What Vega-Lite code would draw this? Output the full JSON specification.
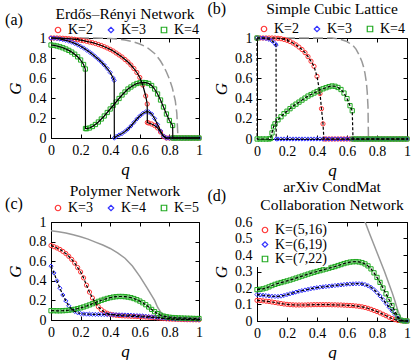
{
"$schema":"https://vega.github.io/schema/vega-lite/v6.json",
"padding":{"left":4,"top":0,"right":0,"bottom":0},
"resolve":{"scale":{"color":"independent","shape":"independent"},"legend":{"color":"independent","shape":"independent"}},
"config":{
 "font":"Liberation Serif",
 "view":{"stroke":"black","strokeWidth":1},
 "axis":{"grid":false,"labelFontSize":14,"titleFontSize":17,"titleFontStyle":"italic","titleFontWeight":"normal","labelColor":"black","titleColor":"black","domainColor":"black","tickColor":"black","tickSize":-4,"labelPadding":9,"labelFlush":false,"labelOverlap":false,"titlePadding":4},
 "title":{"fontSize":15.5,"fontWeight":"normal","color":"black","offset":2},
 "legend":{"labelFontSize":14,"labelColor":"black","symbolStrokeWidth":1.2,"symbolSize":30,"labelOffset":3}
},
"datasets":{
"a":[
{"K":"K=2","q":0,"G":1},{"K":"K=2","q":0.02,"G":1},{"K":"K=2","q":0.04,"G":1},{"K":"K=2","q":0.06,"G":0.999},{"K":"K=2","q":0.08,"G":0.997},{"K":"K=2","q":0.1,"G":0.995},{"K":"K=2","q":0.12,"G":0.993},{"K":"K=2","q":0.14,"G":0.99},{"K":"K=2","q":0.16,"G":0.987},{"K":"K=2","q":0.18,"G":0.983},{"K":"K=2","q":0.2,"G":0.978},{"K":"K=2","q":0.22,"G":0.973},{"K":"K=2","q":0.24,"G":0.967},{"K":"K=2","q":0.26,"G":0.96},{"K":"K=2","q":0.28,"G":0.953},{"K":"K=2","q":0.3,"G":0.945},{"K":"K=2","q":0.32,"G":0.935},{"K":"K=2","q":0.34,"G":0.925},{"K":"K=2","q":0.36,"G":0.913},{"K":"K=2","q":0.38,"G":0.9},{"K":"K=2","q":0.4,"G":0.886},{"K":"K=2","q":0.42,"G":0.87},{"K":"K=2","q":0.44,"G":0.85},{"K":"K=2","q":0.46,"G":0.83},{"K":"K=2","q":0.48,"G":0.81},{"K":"K=2","q":0.5,"G":0.785},{"K":"K=2","q":0.52,"G":0.76},{"K":"K=2","q":0.54,"G":0.73},{"K":"K=2","q":0.56,"G":0.695},{"K":"K=2","q":0.58,"G":0.655},{"K":"K=2","q":0.6,"G":0.605},{"K":"K=2","q":0.62,"G":0.53},{"K":"K=2","q":0.64,"G":0.42},{"K":"K=2","q":0.65,"G":0.34},{"K":"K=2","q":0.651,"G":0.155},{"K":"K=2","q":0.66,"G":0.15},{"K":"K=2","q":0.68,"G":0.14},{"K":"K=2","q":0.7,"G":0.125},{"K":"K=2","q":0.72,"G":0.1},{"K":"K=2","q":0.74,"G":0.06},{"K":"K=2","q":0.76,"G":0.015},{"K":"K=2","q":0.78,"G":0},{"K":"K=2","q":0.8,"G":0},{"K":"K=2","q":0.82,"G":0},{"K":"K=2","q":0.84,"G":0},{"K":"K=2","q":0.86,"G":0},{"K":"K=2","q":0.88,"G":0},{"K":"K=2","q":0.9,"G":0},{"K":"K=2","q":0.92,"G":0},{"K":"K=2","q":0.94,"G":0},{"K":"K=2","q":0.96,"G":0},{"K":"K=2","q":0.98,"G":0},{"K":"K=2","q":1,"G":0},
{"K":"K=3","q":0,"G":1},{"K":"K=3","q":0.02,"G":0.998},{"K":"K=3","q":0.04,"G":0.995},{"K":"K=3","q":0.06,"G":0.99},{"K":"K=3","q":0.08,"G":0.984},{"K":"K=3","q":0.1,"G":0.977},{"K":"K=3","q":0.12,"G":0.968},{"K":"K=3","q":0.14,"G":0.958},{"K":"K=3","q":0.16,"G":0.946},{"K":"K=3","q":0.18,"G":0.932},{"K":"K=3","q":0.2,"G":0.917},{"K":"K=3","q":0.22,"G":0.9},{"K":"K=3","q":0.24,"G":0.88},{"K":"K=3","q":0.26,"G":0.86},{"K":"K=3","q":0.28,"G":0.838},{"K":"K=3","q":0.3,"G":0.813},{"K":"K=3","q":0.32,"G":0.787},{"K":"K=3","q":0.34,"G":0.76},{"K":"K=3","q":0.36,"G":0.73},{"K":"K=3","q":0.38,"G":0.695},{"K":"K=3","q":0.4,"G":0.655},{"K":"K=3","q":0.42,"G":0.6},{"K":"K=3","q":0.427,"G":0.575},{"K":"K=3","q":0.428,"G":0},{"K":"K=3","q":0.44,"G":0.015},{"K":"K=3","q":0.46,"G":0.03},{"K":"K=3","q":0.48,"G":0.045},{"K":"K=3","q":0.5,"G":0.065},{"K":"K=3","q":0.52,"G":0.09},{"K":"K=3","q":0.54,"G":0.12},{"K":"K=3","q":0.56,"G":0.155},{"K":"K=3","q":0.58,"G":0.19},{"K":"K=3","q":0.6,"G":0.22},{"K":"K=3","q":0.62,"G":0.245},{"K":"K=3","q":0.64,"G":0.262},{"K":"K=3","q":0.66,"G":0.262},{"K":"K=3","q":0.68,"G":0.24},{"K":"K=3","q":0.7,"G":0.195},{"K":"K=3","q":0.72,"G":0.135},{"K":"K=3","q":0.74,"G":0.07},{"K":"K=3","q":0.76,"G":0.02},{"K":"K=3","q":0.78,"G":0},{"K":"K=3","q":0.8,"G":0},{"K":"K=3","q":0.82,"G":0},{"K":"K=3","q":0.84,"G":0},{"K":"K=3","q":0.86,"G":0},{"K":"K=3","q":0.88,"G":0},{"K":"K=3","q":0.9,"G":0},{"K":"K=3","q":0.92,"G":0},{"K":"K=3","q":0.94,"G":0},{"K":"K=3","q":0.96,"G":0},{"K":"K=3","q":0.98,"G":0},{"K":"K=3","q":1,"G":0},
{"K":"K=4","q":0,"G":0.93},{"K":"K=4","q":0.02,"G":0.926},{"K":"K=4","q":0.04,"G":0.92},{"K":"K=4","q":0.06,"G":0.912},{"K":"K=4","q":0.08,"G":0.902},{"K":"K=4","q":0.1,"G":0.89},{"K":"K=4","q":0.12,"G":0.876},{"K":"K=4","q":0.14,"G":0.859},{"K":"K=4","q":0.16,"G":0.838},{"K":"K=4","q":0.18,"G":0.812},{"K":"K=4","q":0.2,"G":0.78},{"K":"K=4","q":0.22,"G":0.735},{"K":"K=4","q":0.232,"G":0.69},{"K":"K=4","q":0.233,"G":0.095},{"K":"K=4","q":0.24,"G":0.093},{"K":"K=4","q":0.26,"G":0.1},{"K":"K=4","q":0.28,"G":0.115},{"K":"K=4","q":0.3,"G":0.135},{"K":"K=4","q":0.32,"G":0.16},{"K":"K=4","q":0.34,"G":0.19},{"K":"K=4","q":0.36,"G":0.22},{"K":"K=4","q":0.38,"G":0.255},{"K":"K=4","q":0.4,"G":0.29},{"K":"K=4","q":0.42,"G":0.325},{"K":"K=4","q":0.44,"G":0.36},{"K":"K=4","q":0.46,"G":0.395},{"K":"K=4","q":0.48,"G":0.43},{"K":"K=4","q":0.5,"G":0.46},{"K":"K=4","q":0.52,"G":0.49},{"K":"K=4","q":0.54,"G":0.51},{"K":"K=4","q":0.56,"G":0.53},{"K":"K=4","q":0.58,"G":0.545},{"K":"K=4","q":0.6,"G":0.552},{"K":"K=4","q":0.62,"G":0.555},{"K":"K=4","q":0.64,"G":0.553},{"K":"K=4","q":0.66,"G":0.545},{"K":"K=4","q":0.68,"G":0.525},{"K":"K=4","q":0.7,"G":0.49},{"K":"K=4","q":0.72,"G":0.44},{"K":"K=4","q":0.74,"G":0.38},{"K":"K=4","q":0.76,"G":0.31},{"K":"K=4","q":0.78,"G":0.24},{"K":"K=4","q":0.8,"G":0.175},{"K":"K=4","q":0.822,"G":0.125},{"K":"K=4","q":0.823,"G":0},{"K":"K=4","q":0.84,"G":0},{"K":"K=4","q":0.86,"G":0},{"K":"K=4","q":0.88,"G":0},{"K":"K=4","q":0.9,"G":0},{"K":"K=4","q":0.92,"G":0},{"K":"K=4","q":0.94,"G":0},{"K":"K=4","q":0.96,"G":0},{"K":"K=4","q":0.98,"G":0},{"K":"K=4","q":1,"G":0}
],
"ag":[{"q":0,"G":1},{"q":0.2,"G":1},{"q":0.3,"G":0.999},{"q":0.4,"G":0.995},{"q":0.45,"G":0.99},{"q":0.5,"G":0.98},{"q":0.55,"G":0.965},{"q":0.6,"G":0.94},{"q":0.65,"G":0.905},{"q":0.7,"G":0.845},{"q":0.72,"G":0.81},{"q":0.74,"G":0.77},{"q":0.76,"G":0.72},{"q":0.78,"G":0.66},{"q":0.8,"G":0.59},{"q":0.82,"G":0.5},{"q":0.84,"G":0.37},{"q":0.85,"G":0.25},{"q":0.858,"G":0},{"q":1,"G":0}],
"b":[
{"K":"K=2","q":0,"G":1},{"K":"K=2","q":0.02,"G":1},{"K":"K=2","q":0.04,"G":1},{"K":"K=2","q":0.06,"G":1},{"K":"K=2","q":0.08,"G":1},{"K":"K=2","q":0.1,"G":1},{"K":"K=2","q":0.12,"G":0.999},{"K":"K=2","q":0.14,"G":0.997},{"K":"K=2","q":0.16,"G":0.993},{"K":"K=2","q":0.18,"G":0.986},{"K":"K=2","q":0.2,"G":0.977},{"K":"K=2","q":0.22,"G":0.965},{"K":"K=2","q":0.24,"G":0.95},{"K":"K=2","q":0.26,"G":0.932},{"K":"K=2","q":0.28,"G":0.91},{"K":"K=2","q":0.3,"G":0.886},{"K":"K=2","q":0.32,"G":0.855},{"K":"K=2","q":0.34,"G":0.815},{"K":"K=2","q":0.36,"G":0.77},{"K":"K=2","q":0.38,"G":0.72},{"K":"K=2","q":0.4,"G":0.62},{"K":"K=2","q":0.42,"G":0.45},{"K":"K=2","q":0.43,"G":0.3},{"K":"K=2","q":0.44,"G":0.15},{"K":"K=2","q":0.446,"G":0},{"K":"K=2","q":0.46,"G":0},{"K":"K=2","q":0.48,"G":0},{"K":"K=2","q":0.5,"G":0},{"K":"K=2","q":0.52,"G":0},{"K":"K=2","q":0.54,"G":0},{"K":"K=2","q":0.56,"G":0},{"K":"K=2","q":0.58,"G":0},{"K":"K=2","q":0.6,"G":0},{"K":"K=2","q":0.62,"G":0},{"K":"K=2","q":0.64,"G":0},{"K":"K=2","q":0.66,"G":0},{"K":"K=2","q":0.68,"G":0},{"K":"K=2","q":0.7,"G":0},{"K":"K=2","q":0.72,"G":0},{"K":"K=2","q":0.74,"G":0},{"K":"K=2","q":0.76,"G":0},{"K":"K=2","q":0.78,"G":0},{"K":"K=2","q":0.8,"G":0},{"K":"K=2","q":0.82,"G":0},{"K":"K=2","q":0.84,"G":0},{"K":"K=2","q":0.86,"G":0},{"K":"K=2","q":0.88,"G":0},{"K":"K=2","q":0.9,"G":0},{"K":"K=2","q":0.92,"G":0},{"K":"K=2","q":0.94,"G":0},{"K":"K=2","q":0.96,"G":0},{"K":"K=2","q":0.98,"G":0},{"K":"K=2","q":1,"G":0},
{"K":"K=3","q":0,"G":1},{"K":"K=3","q":0.02,"G":1},{"K":"K=3","q":0.04,"G":0.999},{"K":"K=3","q":0.06,"G":0.995},{"K":"K=3","q":0.08,"G":0.987},{"K":"K=3","q":0.1,"G":0.972},{"K":"K=3","q":0.12,"G":0.945},{"K":"K=3","q":0.127,"G":0.93},{"K":"K=3","q":0.128,"G":0},{"K":"K=3","q":0.14,"G":0},{"K":"K=3","q":0.16,"G":0},{"K":"K=3","q":0.18,"G":0},{"K":"K=3","q":0.2,"G":0},{"K":"K=3","q":0.22,"G":0},{"K":"K=3","q":0.24,"G":0},{"K":"K=3","q":0.26,"G":0},{"K":"K=3","q":0.28,"G":0},{"K":"K=3","q":0.3,"G":0},{"K":"K=3","q":0.32,"G":0},{"K":"K=3","q":0.34,"G":0},{"K":"K=3","q":0.36,"G":0},{"K":"K=3","q":0.38,"G":0},{"K":"K=3","q":0.4,"G":0},{"K":"K=3","q":0.42,"G":0},{"K":"K=3","q":0.44,"G":0},{"K":"K=3","q":0.46,"G":0},{"K":"K=3","q":0.48,"G":0},{"K":"K=3","q":0.5,"G":0},{"K":"K=3","q":0.52,"G":0},{"K":"K=3","q":0.54,"G":0},{"K":"K=3","q":0.56,"G":0},{"K":"K=3","q":0.58,"G":0},{"K":"K=3","q":0.6,"G":0},{"K":"K=3","q":0.62,"G":0},{"K":"K=3","q":0.64,"G":0},{"K":"K=3","q":0.66,"G":0},{"K":"K=3","q":0.68,"G":0},{"K":"K=3","q":0.7,"G":0},{"K":"K=3","q":0.72,"G":0},{"K":"K=3","q":0.74,"G":0},{"K":"K=3","q":0.76,"G":0},{"K":"K=3","q":0.78,"G":0},{"K":"K=3","q":0.8,"G":0},{"K":"K=3","q":0.82,"G":0},{"K":"K=3","q":0.84,"G":0},{"K":"K=3","q":0.86,"G":0},{"K":"K=3","q":0.88,"G":0},{"K":"K=3","q":0.9,"G":0},{"K":"K=3","q":0.92,"G":0},{"K":"K=3","q":0.94,"G":0},{"K":"K=3","q":0.96,"G":0},{"K":"K=3","q":0.98,"G":0},{"K":"K=3","q":1,"G":0},
{"K":"K=4","q":0,"G":1},{"K":"K=4","q":0.001,"G":0},{"K":"K=4","q":0.02,"G":0},{"K":"K=4","q":0.04,"G":0},{"K":"K=4","q":0.06,"G":0},{"K":"K=4","q":0.08,"G":0},{"K":"K=4","q":0.09,"G":0.005},{"K":"K=4","q":0.1,"G":0.06},{"K":"K=4","q":0.11,"G":0.12},{"K":"K=4","q":0.12,"G":0.15},{"K":"K=4","q":0.14,"G":0.19},{"K":"K=4","q":0.16,"G":0.22},{"K":"K=4","q":0.18,"G":0.25},{"K":"K=4","q":0.2,"G":0.275},{"K":"K=4","q":0.22,"G":0.3},{"K":"K=4","q":0.24,"G":0.325},{"K":"K=4","q":0.26,"G":0.345},{"K":"K=4","q":0.28,"G":0.365},{"K":"K=4","q":0.3,"G":0.385},{"K":"K=4","q":0.32,"G":0.405},{"K":"K=4","q":0.34,"G":0.425},{"K":"K=4","q":0.36,"G":0.44},{"K":"K=4","q":0.38,"G":0.455},{"K":"K=4","q":0.4,"G":0.47},{"K":"K=4","q":0.42,"G":0.485},{"K":"K=4","q":0.44,"G":0.497},{"K":"K=4","q":0.46,"G":0.508},{"K":"K=4","q":0.48,"G":0.518},{"K":"K=4","q":0.5,"G":0.525},{"K":"K=4","q":0.52,"G":0.522},{"K":"K=4","q":0.54,"G":0.51},{"K":"K=4","q":0.56,"G":0.49},{"K":"K=4","q":0.58,"G":0.455},{"K":"K=4","q":0.6,"G":0.4},{"K":"K=4","q":0.62,"G":0.33},{"K":"K=4","q":0.635,"G":0.28},{"K":"K=4","q":0.64,"G":0},{"K":"K=4","q":0.66,"G":0},{"K":"K=4","q":0.68,"G":0},{"K":"K=4","q":0.7,"G":0},{"K":"K=4","q":0.72,"G":0},{"K":"K=4","q":0.74,"G":0},{"K":"K=4","q":0.76,"G":0},{"K":"K=4","q":0.78,"G":0},{"K":"K=4","q":0.8,"G":0},{"K":"K=4","q":0.82,"G":0},{"K":"K=4","q":0.84,"G":0},{"K":"K=4","q":0.86,"G":0},{"K":"K=4","q":0.88,"G":0},{"K":"K=4","q":0.9,"G":0},{"K":"K=4","q":0.92,"G":0},{"K":"K=4","q":0.94,"G":0},{"K":"K=4","q":0.96,"G":0},{"K":"K=4","q":0.98,"G":0},{"K":"K=4","q":1,"G":0}
],
"bg":[{"q":0,"G":1},{"q":0.5,"G":1},{"q":0.55,"G":0.99},{"q":0.6,"G":0.965},{"q":0.64,"G":0.925},{"q":0.66,"G":0.89},{"q":0.68,"G":0.835},{"q":0.7,"G":0.765},{"q":0.71,"G":0.715},{"q":0.72,"G":0.65},{"q":0.73,"G":0.55},{"q":0.735,"G":0.46},{"q":0.74,"G":0.32},{"q":0.743,"G":0},{"q":1,"G":0}],
"c":[
{"K":"K=3","q":0,"G":0.76},{"K":"K=3","q":0.02,"G":0.748},{"K":"K=3","q":0.04,"G":0.735},{"K":"K=3","q":0.06,"G":0.72},{"K":"K=3","q":0.08,"G":0.7},{"K":"K=3","q":0.1,"G":0.678},{"K":"K=3","q":0.12,"G":0.65},{"K":"K=3","q":0.14,"G":0.618},{"K":"K=3","q":0.16,"G":0.58},{"K":"K=3","q":0.18,"G":0.535},{"K":"K=3","q":0.2,"G":0.49},{"K":"K=3","q":0.22,"G":0.43},{"K":"K=3","q":0.24,"G":0.355},{"K":"K=3","q":0.26,"G":0.285},{"K":"K=3","q":0.28,"G":0.225},{"K":"K=3","q":0.3,"G":0.175},{"K":"K=3","q":0.32,"G":0.135},{"K":"K=3","q":0.34,"G":0.105},{"K":"K=3","q":0.36,"G":0.083},{"K":"K=3","q":0.38,"G":0.068},{"K":"K=3","q":0.4,"G":0.058},{"K":"K=3","q":0.42,"G":0.052},{"K":"K=3","q":0.44,"G":0.048},{"K":"K=3","q":0.46,"G":0.045},{"K":"K=3","q":0.48,"G":0.043},{"K":"K=3","q":0.5,"G":0.041},{"K":"K=3","q":0.52,"G":0.04},{"K":"K=3","q":0.54,"G":0.038},{"K":"K=3","q":0.56,"G":0.037},{"K":"K=3","q":0.58,"G":0.035},{"K":"K=3","q":0.6,"G":0.034},{"K":"K=3","q":0.62,"G":0.032},{"K":"K=3","q":0.64,"G":0.03},{"K":"K=3","q":0.66,"G":0.028},{"K":"K=3","q":0.68,"G":0.026},{"K":"K=3","q":0.7,"G":0.024},{"K":"K=3","q":0.72,"G":0.021},{"K":"K=3","q":0.74,"G":0.018},{"K":"K=3","q":0.76,"G":0.015},{"K":"K=3","q":0.78,"G":0.012},{"K":"K=3","q":0.8,"G":0.01},{"K":"K=3","q":0.82,"G":0.008},{"K":"K=3","q":0.84,"G":0.007},{"K":"K=3","q":0.86,"G":0.006},{"K":"K=3","q":0.88,"G":0.005},{"K":"K=3","q":0.9,"G":0.004},{"K":"K=3","q":0.92,"G":0.003},{"K":"K=3","q":0.94,"G":0.003},{"K":"K=3","q":0.96,"G":0.002},{"K":"K=3","q":0.98,"G":0.002},{"K":"K=3","q":1,"G":0.001},
{"K":"K=4","q":0,"G":0.55},{"K":"K=4","q":0.02,"G":0.48},{"K":"K=4","q":0.04,"G":0.4},{"K":"K=4","q":0.06,"G":0.325},{"K":"K=4","q":0.08,"G":0.255},{"K":"K=4","q":0.1,"G":0.195},{"K":"K=4","q":0.12,"G":0.145},{"K":"K=4","q":0.14,"G":0.11},{"K":"K=4","q":0.16,"G":0.088},{"K":"K=4","q":0.18,"G":0.074},{"K":"K=4","q":0.2,"G":0.066},{"K":"K=4","q":0.22,"G":0.062},{"K":"K=4","q":0.24,"G":0.06},{"K":"K=4","q":0.26,"G":0.059},{"K":"K=4","q":0.28,"G":0.058},{"K":"K=4","q":0.3,"G":0.057},{"K":"K=4","q":0.32,"G":0.057},{"K":"K=4","q":0.34,"G":0.056},{"K":"K=4","q":0.36,"G":0.056},{"K":"K=4","q":0.38,"G":0.055},{"K":"K=4","q":0.4,"G":0.055},{"K":"K=4","q":0.42,"G":0.054},{"K":"K=4","q":0.44,"G":0.054},{"K":"K=4","q":0.46,"G":0.053},{"K":"K=4","q":0.48,"G":0.052},{"K":"K=4","q":0.5,"G":0.051},{"K":"K=4","q":0.52,"G":0.05},{"K":"K=4","q":0.54,"G":0.049},{"K":"K=4","q":0.56,"G":0.047},{"K":"K=4","q":0.58,"G":0.045},{"K":"K=4","q":0.6,"G":0.043},{"K":"K=4","q":0.62,"G":0.041},{"K":"K=4","q":0.64,"G":0.038},{"K":"K=4","q":0.66,"G":0.035},{"K":"K=4","q":0.68,"G":0.032},{"K":"K=4","q":0.7,"G":0.029},{"K":"K=4","q":0.72,"G":0.026},{"K":"K=4","q":0.74,"G":0.023},{"K":"K=4","q":0.76,"G":0.02},{"K":"K=4","q":0.78,"G":0.017},{"K":"K=4","q":0.8,"G":0.015},{"K":"K=4","q":0.82,"G":0.013},{"K":"K=4","q":0.84,"G":0.011},{"K":"K=4","q":0.86,"G":0.01},{"K":"K=4","q":0.88,"G":0.009},{"K":"K=4","q":0.9,"G":0.008},{"K":"K=4","q":0.92,"G":0.007},{"K":"K=4","q":0.94,"G":0.006},{"K":"K=4","q":0.96,"G":0.005},{"K":"K=4","q":0.98,"G":0.005},{"K":"K=4","q":1,"G":0.004},
{"K":"K=5","q":0,"G":0.095},{"K":"K=5","q":0.02,"G":0.095},{"K":"K=5","q":0.04,"G":0.094},{"K":"K=5","q":0.06,"G":0.094},{"K":"K=5","q":0.08,"G":0.095},{"K":"K=5","q":0.1,"G":0.097},{"K":"K=5","q":0.12,"G":0.1},{"K":"K=5","q":0.14,"G":0.104},{"K":"K=5","q":0.16,"G":0.109},{"K":"K=5","q":0.18,"G":0.116},{"K":"K=5","q":0.2,"G":0.124},{"K":"K=5","q":0.22,"G":0.133},{"K":"K=5","q":0.24,"G":0.143},{"K":"K=5","q":0.26,"G":0.154},{"K":"K=5","q":0.28,"G":0.166},{"K":"K=5","q":0.3,"G":0.178},{"K":"K=5","q":0.32,"G":0.19},{"K":"K=5","q":0.34,"G":0.201},{"K":"K=5","q":0.36,"G":0.211},{"K":"K=5","q":0.38,"G":0.22},{"K":"K=5","q":0.4,"G":0.228},{"K":"K=5","q":0.42,"G":0.234},{"K":"K=5","q":0.44,"G":0.238},{"K":"K=5","q":0.46,"G":0.24},{"K":"K=5","q":0.48,"G":0.24},{"K":"K=5","q":0.5,"G":0.238},{"K":"K=5","q":0.52,"G":0.234},{"K":"K=5","q":0.54,"G":0.228},{"K":"K=5","q":0.56,"G":0.219},{"K":"K=5","q":0.58,"G":0.207},{"K":"K=5","q":0.6,"G":0.193},{"K":"K=5","q":0.62,"G":0.176},{"K":"K=5","q":0.64,"G":0.156},{"K":"K=5","q":0.66,"G":0.133},{"K":"K=5","q":0.68,"G":0.108},{"K":"K=5","q":0.7,"G":0.085},{"K":"K=5","q":0.72,"G":0.065},{"K":"K=5","q":0.74,"G":0.05},{"K":"K=5","q":0.76,"G":0.04},{"K":"K=5","q":0.78,"G":0.033},{"K":"K=5","q":0.8,"G":0.028},{"K":"K=5","q":0.82,"G":0.025},{"K":"K=5","q":0.84,"G":0.023},{"K":"K=5","q":0.86,"G":0.021},{"K":"K=5","q":0.88,"G":0.02},{"K":"K=5","q":0.9,"G":0.019},{"K":"K=5","q":0.92,"G":0.018},{"K":"K=5","q":0.94,"G":0.017},{"K":"K=5","q":0.96,"G":0.016},{"K":"K=5","q":0.98,"G":0.015},{"K":"K=5","q":1,"G":0.015}
],
"cg":[{"q":0,"G":0.91},{"q":0.05,"G":0.9},{"q":0.1,"G":0.888},{"q":0.15,"G":0.87},{"q":0.2,"G":0.85},{"q":0.25,"G":0.825},{"q":0.3,"G":0.795},{"q":0.35,"G":0.765},{"q":0.4,"G":0.73},{"q":0.45,"G":0.685},{"q":0.5,"G":0.63},{"q":0.55,"G":0.55},{"q":0.6,"G":0.445},{"q":0.65,"G":0.325},{"q":0.7,"G":0.2},{"q":0.72,"G":0.13},{"q":0.75,"G":0.06},{"q":0.8,"G":0.025},{"q":0.9,"G":0.012},{"q":1,"G":0.008}],
"d":[
{"K":"K=(5,16)","q":0,"G":0.125},{"K":"K=(5,16)","q":0.02,"G":0.124},{"K":"K=(5,16)","q":0.04,"G":0.122},{"K":"K=(5,16)","q":0.06,"G":0.12},{"K":"K=(5,16)","q":0.08,"G":0.118},{"K":"K=(5,16)","q":0.1,"G":0.115},{"K":"K=(5,16)","q":0.12,"G":0.112},{"K":"K=(5,16)","q":0.14,"G":0.109},{"K":"K=(5,16)","q":0.16,"G":0.106},{"K":"K=(5,16)","q":0.18,"G":0.103},{"K":"K=(5,16)","q":0.2,"G":0.101},{"K":"K=(5,16)","q":0.22,"G":0.099},{"K":"K=(5,16)","q":0.24,"G":0.098},{"K":"K=(5,16)","q":0.26,"G":0.097},{"K":"K=(5,16)","q":0.28,"G":0.097},{"K":"K=(5,16)","q":0.3,"G":0.097},{"K":"K=(5,16)","q":0.32,"G":0.097},{"K":"K=(5,16)","q":0.34,"G":0.098},{"K":"K=(5,16)","q":0.36,"G":0.098},{"K":"K=(5,16)","q":0.38,"G":0.099},{"K":"K=(5,16)","q":0.4,"G":0.099},{"K":"K=(5,16)","q":0.42,"G":0.099},{"K":"K=(5,16)","q":0.44,"G":0.099},{"K":"K=(5,16)","q":0.46,"G":0.099},{"K":"K=(5,16)","q":0.48,"G":0.099},{"K":"K=(5,16)","q":0.5,"G":0.098},{"K":"K=(5,16)","q":0.52,"G":0.098},{"K":"K=(5,16)","q":0.54,"G":0.097},{"K":"K=(5,16)","q":0.56,"G":0.097},{"K":"K=(5,16)","q":0.58,"G":0.096},{"K":"K=(5,16)","q":0.6,"G":0.095},{"K":"K=(5,16)","q":0.62,"G":0.094},{"K":"K=(5,16)","q":0.64,"G":0.093},{"K":"K=(5,16)","q":0.66,"G":0.091},{"K":"K=(5,16)","q":0.68,"G":0.089},{"K":"K=(5,16)","q":0.7,"G":0.086},{"K":"K=(5,16)","q":0.72,"G":0.082},{"K":"K=(5,16)","q":0.74,"G":0.077},{"K":"K=(5,16)","q":0.76,"G":0.071},{"K":"K=(5,16)","q":0.78,"G":0.064},{"K":"K=(5,16)","q":0.8,"G":0.057},{"K":"K=(5,16)","q":0.82,"G":0.049},{"K":"K=(5,16)","q":0.84,"G":0.041},{"K":"K=(5,16)","q":0.86,"G":0.032},{"K":"K=(5,16)","q":0.88,"G":0.023},{"K":"K=(5,16)","q":0.9,"G":0.015},{"K":"K=(5,16)","q":0.92,"G":0.008},{"K":"K=(5,16)","q":0.94,"G":0.003},{"K":"K=(5,16)","q":0.96,"G":0.001},{"K":"K=(5,16)","q":0.98,"G":0},{"K":"K=(5,16)","q":1,"G":0},
{"K":"K=(6,19)","q":0,"G":0.16},{"K":"K=(6,19)","q":0.02,"G":0.158},{"K":"K=(6,19)","q":0.04,"G":0.156},{"K":"K=(6,19)","q":0.06,"G":0.154},{"K":"K=(6,19)","q":0.08,"G":0.152},{"K":"K=(6,19)","q":0.1,"G":0.15},{"K":"K=(6,19)","q":0.12,"G":0.149},{"K":"K=(6,19)","q":0.14,"G":0.149},{"K":"K=(6,19)","q":0.16,"G":0.151},{"K":"K=(6,19)","q":0.18,"G":0.155},{"K":"K=(6,19)","q":0.2,"G":0.16},{"K":"K=(6,19)","q":0.22,"G":0.165},{"K":"K=(6,19)","q":0.24,"G":0.17},{"K":"K=(6,19)","q":0.26,"G":0.175},{"K":"K=(6,19)","q":0.28,"G":0.18},{"K":"K=(6,19)","q":0.3,"G":0.184},{"K":"K=(6,19)","q":0.32,"G":0.188},{"K":"K=(6,19)","q":0.34,"G":0.192},{"K":"K=(6,19)","q":0.36,"G":0.196},{"K":"K=(6,19)","q":0.38,"G":0.199},{"K":"K=(6,19)","q":0.4,"G":0.202},{"K":"K=(6,19)","q":0.42,"G":0.205},{"K":"K=(6,19)","q":0.44,"G":0.207},{"K":"K=(6,19)","q":0.46,"G":0.209},{"K":"K=(6,19)","q":0.48,"G":0.211},{"K":"K=(6,19)","q":0.5,"G":0.213},{"K":"K=(6,19)","q":0.52,"G":0.215},{"K":"K=(6,19)","q":0.54,"G":0.217},{"K":"K=(6,19)","q":0.56,"G":0.219},{"K":"K=(6,19)","q":0.58,"G":0.221},{"K":"K=(6,19)","q":0.6,"G":0.223},{"K":"K=(6,19)","q":0.62,"G":0.224},{"K":"K=(6,19)","q":0.64,"G":0.225},{"K":"K=(6,19)","q":0.66,"G":0.226},{"K":"K=(6,19)","q":0.68,"G":0.226},{"K":"K=(6,19)","q":0.7,"G":0.225},{"K":"K=(6,19)","q":0.72,"G":0.221},{"K":"K=(6,19)","q":0.74,"G":0.214},{"K":"K=(6,19)","q":0.76,"G":0.204},{"K":"K=(6,19)","q":0.78,"G":0.19},{"K":"K=(6,19)","q":0.8,"G":0.172},{"K":"K=(6,19)","q":0.82,"G":0.152},{"K":"K=(6,19)","q":0.84,"G":0.13},{"K":"K=(6,19)","q":0.86,"G":0.107},{"K":"K=(6,19)","q":0.88,"G":0.084},{"K":"K=(6,19)","q":0.9,"G":0.062},{"K":"K=(6,19)","q":0.92,"G":0.04},{"K":"K=(6,19)","q":0.94,"G":0.018},{"K":"K=(6,19)","q":0.96,"G":0.004},{"K":"K=(6,19)","q":0.98,"G":0},{"K":"K=(6,19)","q":1,"G":0},
{"K":"K=(7,22)","q":0,"G":0.19},{"K":"K=(7,22)","q":0.02,"G":0.192},{"K":"K=(7,22)","q":0.04,"G":0.195},{"K":"K=(7,22)","q":0.06,"G":0.2},{"K":"K=(7,22)","q":0.08,"G":0.207},{"K":"K=(7,22)","q":0.1,"G":0.215},{"K":"K=(7,22)","q":0.12,"G":0.222},{"K":"K=(7,22)","q":0.14,"G":0.228},{"K":"K=(7,22)","q":0.16,"G":0.233},{"K":"K=(7,22)","q":0.18,"G":0.238},{"K":"K=(7,22)","q":0.2,"G":0.243},{"K":"K=(7,22)","q":0.22,"G":0.248},{"K":"K=(7,22)","q":0.24,"G":0.254},{"K":"K=(7,22)","q":0.26,"G":0.26},{"K":"K=(7,22)","q":0.28,"G":0.266},{"K":"K=(7,22)","q":0.3,"G":0.272},{"K":"K=(7,22)","q":0.32,"G":0.278},{"K":"K=(7,22)","q":0.34,"G":0.284},{"K":"K=(7,22)","q":0.36,"G":0.29},{"K":"K=(7,22)","q":0.38,"G":0.295},{"K":"K=(7,22)","q":0.4,"G":0.3},{"K":"K=(7,22)","q":0.42,"G":0.305},{"K":"K=(7,22)","q":0.44,"G":0.31},{"K":"K=(7,22)","q":0.46,"G":0.315},{"K":"K=(7,22)","q":0.48,"G":0.32},{"K":"K=(7,22)","q":0.5,"G":0.325},{"K":"K=(7,22)","q":0.52,"G":0.33},{"K":"K=(7,22)","q":0.54,"G":0.336},{"K":"K=(7,22)","q":0.56,"G":0.342},{"K":"K=(7,22)","q":0.58,"G":0.348},{"K":"K=(7,22)","q":0.6,"G":0.353},{"K":"K=(7,22)","q":0.62,"G":0.357},{"K":"K=(7,22)","q":0.64,"G":0.359},{"K":"K=(7,22)","q":0.66,"G":0.36},{"K":"K=(7,22)","q":0.68,"G":0.358},{"K":"K=(7,22)","q":0.7,"G":0.354},{"K":"K=(7,22)","q":0.72,"G":0.346},{"K":"K=(7,22)","q":0.74,"G":0.334},{"K":"K=(7,22)","q":0.76,"G":0.316},{"K":"K=(7,22)","q":0.78,"G":0.292},{"K":"K=(7,22)","q":0.8,"G":0.264},{"K":"K=(7,22)","q":0.82,"G":0.234},{"K":"K=(7,22)","q":0.84,"G":0.2},{"K":"K=(7,22)","q":0.86,"G":0.165},{"K":"K=(7,22)","q":0.88,"G":0.13},{"K":"K=(7,22)","q":0.9,"G":0.094},{"K":"K=(7,22)","q":0.92,"G":0.058},{"K":"K=(7,22)","q":0.94,"G":0.025},{"K":"K=(7,22)","q":0.96,"G":0.005},{"K":"K=(7,22)","q":0.98,"G":0},{"K":"K=(7,22)","q":1,"G":0}
],
"dg":[{"q":0.6,"G":0.86},{"q":0.65,"G":0.77},{"q":0.7,"G":0.65},{"q":0.75,"G":0.53},{"q":0.8,"G":0.415},{"q":0.85,"G":0.3},{"q":0.9,"G":0.175},{"q":0.92,"G":0.12},{"q":0.94,"G":0.06},{"q":0.96,"G":0.015},{"q":0.98,"G":0},{"q":1,"G":0}]
},
"vconcat":[
{"hconcat":[
{"width":148,"height":100,"title":{"text":"Erdős–Rényi Network","offset":-10},
 "resolve":{"axis":{"x":"independent","y":"independent"}},
 "layer":[
  {"data":{"name":"ag"},"mark":{"type":"line","color":"#999999","strokeWidth":1.5,"strokeDash":[10,4]},
   "encoding":{"x":{"field":"q","type":"quantitative","scale":{"domain":[0,1]},"axis":{"values":[0,0.2,0.4,0.6,0.8,1],"format":"~g","title":"q"}},
    "y":{"field":"G","type":"quantitative","scale":{"domain":[0,1]},"axis":{"values":[0,0.2,0.4,0.6,0.8,1],"format":"~g","title":"G"}}}},
  {"data":{"name":"a"},"mark":{"type":"point","filled":false,"size":18,"strokeWidth":1,"opacity":1},
   "encoding":{"x":{"field":"q","type":"quantitative","scale":{"domain":[0,1]},"axis":null},
    "y":{"field":"G","type":"quantitative","scale":{"domain":[0,1]},"axis":null},
    "color":{"field":"K","type":"nominal","scale":{"domain":["K=2","K=3","K=4"],"range":["#ff3333","#3333ff","#22aa22"]},"legend":{"title":null,"orient":"top","direction":"horizontal","columnPadding":10,"offset":-2,"padding":0}},
    "shape":{"field":"K","type":"nominal","scale":{"domain":["K=2","K=3","K=4"],"range":["circle","diamond","square"]},"legend":{"title":null,"orient":"top","direction":"horizontal","columnPadding":10,"offset":-2,"padding":0}}}},
  {"data":{"name":"a"},"mark":{"type":"line","color":"black","strokeWidth":1.2},
   "encoding":{"x":{"field":"q","type":"quantitative","scale":{"domain":[0,1]},"axis":{"orient":"top","values":[0,0.2,0.4,0.6,0.8,1],"labels":false,"title":null,"domain":false}},
    "y":{"field":"G","type":"quantitative","scale":{"domain":[0,1]},"axis":{"orient":"right","values":[0,0.2,0.4,0.6,0.8,1],"labels":false,"title":null,"domain":false}},
    "detail":{"field":"K","type":"nominal"}}},
  {"data":{"values":[{"t":"(a)"}]},"mark":{"type":"text","align":"left","baseline":"alphabetic","fontSize":16},
   "encoding":{"text":{"field":"t"},"x":{"datum":-0.31,"type":"quantitative","scale":{"domain":[0,1]},"axis":null},"y":{"datum":1.13,"type":"quantitative","scale":{"domain":[0,1]},"axis":null}}}
 ]},
{"width":150,"height":101,"title":{"text":"Simple Cubic Lattice","offset":-17},
 "resolve":{"axis":{"x":"independent","y":"independent"}},
 "layer":[
  {"data":{"name":"bg"},"mark":{"type":"line","color":"#999999","strokeWidth":1.5,"strokeDash":[10,4]},
   "encoding":{"x":{"field":"q","type":"quantitative","scale":{"domain":[0,1]},"axis":{"values":[0,0.2,0.4,0.6,0.8,1],"format":"~g","title":"q"}},
    "y":{"field":"G","type":"quantitative","scale":{"domain":[0,1]},"axis":{"values":[0,0.2,0.4,0.6,0.8,1],"format":"~g","title":"G"}}}},
  {"data":{"name":"b"},"mark":{"type":"point","filled":false,"size":18,"strokeWidth":1,"opacity":1},
   "encoding":{"x":{"field":"q","type":"quantitative","scale":{"domain":[0,1]},"axis":null},
    "y":{"field":"G","type":"quantitative","scale":{"domain":[0,1]},"axis":null},
    "color":{"field":"K","type":"nominal","scale":{"domain":["K=2","K=3","K=4"],"range":["#ff3333","#3333ff","#22aa22"]},"legend":{"title":null,"orient":"top","direction":"horizontal","columnPadding":10,"offset":-1,"padding":0}},
    "shape":{"field":"K","type":"nominal","scale":{"domain":["K=2","K=3","K=4"],"range":["circle","diamond","square"]},"legend":{"title":null,"orient":"top","direction":"horizontal","columnPadding":10,"offset":-1,"padding":0}}}},
  {"data":{"name":"b"},"mark":{"type":"line","color":"black","strokeWidth":1.2,"strokeDash":[3,2]},
   "encoding":{"x":{"field":"q","type":"quantitative","scale":{"domain":[0,1]},"axis":{"orient":"top","values":[0,0.2,0.4,0.6,0.8,1],"labels":false,"title":null,"domain":false}},
    "y":{"field":"G","type":"quantitative","scale":{"domain":[0,1]},"axis":{"orient":"right","values":[0,0.2,0.4,0.6,0.8,1],"labels":false,"title":null,"domain":false}},
    "detail":{"field":"K","type":"nominal"}}},
  {"data":{"values":[{"t":"(b)"}]},"mark":{"type":"text","align":"left","baseline":"alphabetic","fontSize":16},
   "encoding":{"text":{"field":"t"},"x":{"datum":-0.33,"type":"quantitative","scale":{"domain":[0,1]},"axis":null},"y":{"datum":1.24,"type":"quantitative","scale":{"domain":[0,1]},"axis":null}}}
 ]}
],"spacing":3,"resolve":{"scale":{"color":"independent","shape":"independent"},"legend":{"color":"independent","shape":"independent"}}},
{"hconcat":[
{"width":148,"height":98,"title":{"text":"Polymer Network","offset":-3},
 "resolve":{"axis":{"x":"independent","y":"independent"}},
 "layer":[
  {"data":{"name":"cg"},"mark":{"type":"line","color":"#999999","strokeWidth":1.5},
   "encoding":{"x":{"field":"q","type":"quantitative","scale":{"domain":[0,1]},"axis":{"values":[0,0.2,0.4,0.6,0.8,1],"format":"~g","title":"q"}},
    "y":{"field":"G","type":"quantitative","scale":{"domain":[0,1]},"axis":{"values":[0,0.2,0.4,0.6,0.8,1],"format":"~g","title":"G"}}}},
  {"data":{"name":"c"},"mark":{"type":"point","filled":false,"size":18,"strokeWidth":1,"opacity":1},
   "encoding":{"x":{"field":"q","type":"quantitative","scale":{"domain":[0,1]},"axis":null},
    "y":{"field":"G","type":"quantitative","scale":{"domain":[0,1]},"axis":null},
    "color":{"field":"K","type":"nominal","scale":{"domain":["K=3","K=4","K=5"],"range":["#ff3333","#3333ff","#22aa22"]},"legend":{"title":null,"orient":"top","direction":"horizontal","columnPadding":10,"offset":6,"padding":0}},
    "shape":{"field":"K","type":"nominal","scale":{"domain":["K=3","K=4","K=5"],"range":["circle","diamond","square"]},"legend":{"title":null,"orient":"top","direction":"horizontal","columnPadding":10,"offset":6,"padding":0}}}},
  {"data":{"name":"c"},"mark":{"type":"line","color":"black","strokeWidth":1.2,"strokeDash":[3,2]},
   "encoding":{"x":{"field":"q","type":"quantitative","scale":{"domain":[0,1]},"axis":{"orient":"top","values":[0,0.2,0.4,0.6,0.8,1],"labels":false,"title":null,"domain":false}},
    "y":{"field":"G","type":"quantitative","scale":{"domain":[0,1]},"axis":{"orient":"right","values":[0,0.2,0.4,0.6,0.8,1],"labels":false,"title":null,"domain":false}},
    "detail":{"field":"K","type":"nominal"}}},
  {"data":{"values":[{"t":"(c)"}]},"mark":{"type":"text","align":"left","baseline":"alphabetic","fontSize":16},
   "encoding":{"text":{"field":"t"},"x":{"datum":-0.31,"type":"quantitative","scale":{"domain":[0,1]},"axis":null},"y":{"datum":1.132,"type":"quantitative","scale":{"domain":[0,1]},"axis":null}}}
 ]},
{"width":150,"height":99,"title":{"text":["arXiv CondMat","Collaboration Network"],"lineHeight":17.5,"offset":-25},
 "resolve":{"axis":{"x":"independent","y":"independent"}},
 "layer":[
  {"data":{"name":"dg"},"mark":{"type":"line","color":"#999999","strokeWidth":1.5,"clip":true},
   "encoding":{"x":{"field":"q","type":"quantitative","scale":{"domain":[0,1]},"axis":{"values":[0,0.2,0.4,0.6,0.8,1],"format":"~g","title":"q"}},
    "y":{"field":"G","type":"quantitative","scale":{"domain":[0,0.6]},"axis":{"values":[0,0.1,0.2,0.3,0.4,0.5,0.6],"format":"~g","title":"G"}}}},
  {"data":{"name":"d"},"mark":{"type":"point","filled":false,"size":18,"strokeWidth":1,"opacity":1},
   "encoding":{"x":{"field":"q","type":"quantitative","scale":{"domain":[0,1]},"axis":null},
    "y":{"field":"G","type":"quantitative","scale":{"domain":[0,0.6]},"axis":null},
    "color":{"field":"K","type":"nominal","scale":{"domain":["K=(5,16)","K=(6,19)","K=(7,22)"],"range":["#ff3333","#3333ff","#22aa22"]},"legend":{"title":null,"orient":"top-left","direction":"vertical","fillColor":"white","offset":0,"padding":1,"rowPadding":0.5}},
    "shape":{"field":"K","type":"nominal","scale":{"domain":["K=(5,16)","K=(6,19)","K=(7,22)"],"range":["circle","diamond","square"]},"legend":{"title":null,"orient":"top-left","direction":"vertical","fillColor":"white","offset":0,"padding":1,"rowPadding":0.5}}}},
  {"data":{"name":"d"},"mark":{"type":"line","color":"black","strokeWidth":1.2,"strokeDash":[3,2]},
   "encoding":{"x":{"field":"q","type":"quantitative","scale":{"domain":[0,1]},"axis":{"orient":"top","values":[0,0.2,0.4,0.6,0.8,1],"labels":false,"title":null,"domain":false}},
    "y":{"field":"G","type":"quantitative","scale":{"domain":[0,0.6]},"axis":{"orient":"right","values":[0,0.1,0.2,0.3,0.4,0.5,0.6],"labels":false,"title":null,"domain":false}},
    "detail":{"field":"K","type":"nominal"}}},
  {"data":{"values":[{"t":"(d)"}]},"mark":{"type":"text","align":"left","baseline":"alphabetic","fontSize":16},
   "encoding":{"text":{"field":"t"},"x":{"datum":-0.33,"type":"quantitative","scale":{"domain":[0,1]},"axis":null},"y":{"datum":0.727,"type":"quantitative","scale":{"domain":[0,0.6]},"axis":null}}}
 ]}
],"spacing":3,"resolve":{"scale":{"color":"independent","shape":"independent"},"legend":{"color":"independent","shape":"independent"}}}
],
"spacing":0
}
